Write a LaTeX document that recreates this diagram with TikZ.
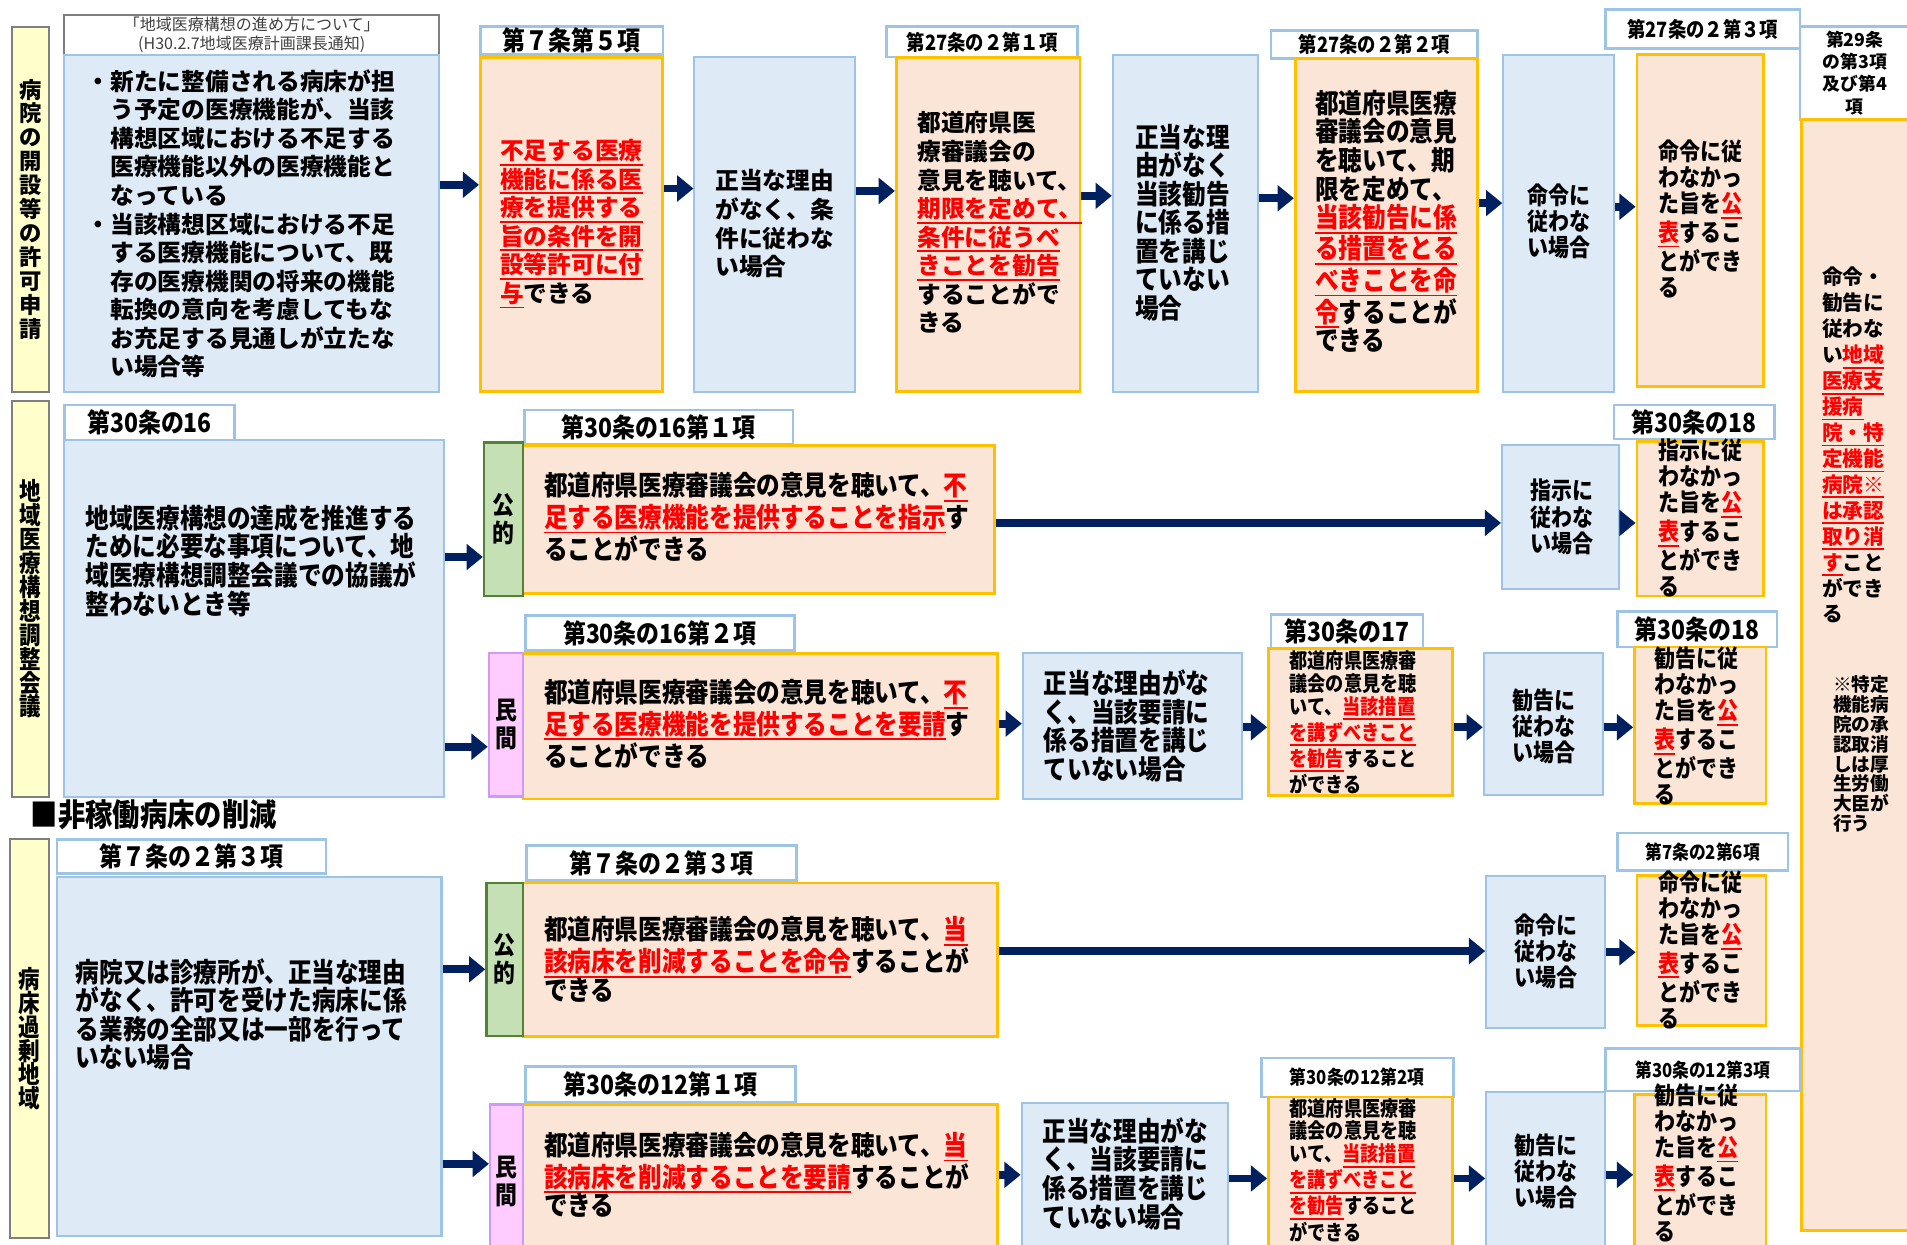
\documentclass[tikz,border=0pt]{standalone}
\usepackage{fontspec}
\setmainfont{Noto Sans CJK JP}
\newfontfamily\cf{Noto Sans CJK JP}[FakeStretch=0.87]
\usetikzlibrary{arrows.meta}
\definecolor{bfill}{HTML}{DEEBF7}
\definecolor{bline}{HTML}{9DC3E6}
\definecolor{ofill}{HTML}{FBE5D6}
\definecolor{oline}{HTML}{FFC000}
\definecolor{yfill}{HTML}{FFFFCC}
\definecolor{gline}{HTML}{7F7F7F}
\definecolor{kfill}{HTML}{C5E0B4}
\definecolor{kline}{HTML}{548235}
\definecolor{mfill}{HTML}{FFCCFF}
\definecolor{mline}{HTML}{CC99FF}
\definecolor{navy}{HTML}{002060}
\definecolor{rd}{HTML}{FF0000}
\definecolor{gtxt}{HTML}{404040}
\newsavebox\rubox
\newcommand\ru[1]{\begingroup\color{rd}\sbox\rubox{#1}\rlap{\rule[-3pt]{\wd\rubox}{0.9pt}}\usebox\rubox\endgroup}
\newcommand\xfN{\bfseries\fontsize{11.7}{14.1}\selectfont}
\newcommand\xfA{\cf\bfseries\fontsize{13.4}{14.1}\selectfont}
\newcommand\xfB{\cf\bfseries\fontsize{11.9}{12.9}\selectfont}
\newcommand\xfC{\cf\bfseries\fontsize{10.3}{11.2}\selectfont}
\newcommand\xfR{\bfseries\fontsize{10.2}{12.8}\selectfont}
\newcommand\xfS{\bfseries\fontsize{9.2}{9.8}\selectfont}
\newcommand\xfH{\cf\bfseries\fontsize{13}{13}\selectfont}
\newcommand\xfh{\cf\bfseries\fontsize{10.4}{11}\selectfont}
\newcommand\xfs{\cf\bfseries\fontsize{9.5}{11}\selectfont}
\newcommand\xfL{\bfseries\fontsize{11}{11.8}\selectfont}
\newcommand\xfLc{\cf\bfseries\fontsize{12.2}{11.8}\selectfont}
\newcommand\xfT{\cf\bfseries\fontsize{12.4}{13.8}\selectfont}
\newcommand\xfG{\fontsize{7.9}{9.2}\selectfont}
\newcommand\xfX{\cf\bfseries\fontsize{15.5}{16}\selectfont}
\newcommand\xfQ{\bfseries\fontsize{8.8}{11}\selectfont}
\newcommand\mkbox[7]{\node[#2, minimum width={(#5-#3)*0.6pt}, minimum height={(#6-#4)*0.6pt}, align=center] (#1) at ({(#3+#5)/2},{(#4+#6)/2}) {#7};}
\newcommand\harr[3]{\draw[arr] (#1.east |- 0,#3) -- (#2.west |- 0,#3);}
\tikzset{
 bbox/.style={draw=bline, fill=bfill, line width=1pt, inner sep=0},
 obox/.style={draw=oline, fill=ofill, line width=1.4pt, inner sep=0},
 hbox/.style={draw=bline, fill=white, line width=1.3pt, inner sep=0},
 lbox/.style={draw=gline, fill=yfill, line width=1pt, inner sep=0},
 kbox/.style={draw=kline, fill=kfill, line width=1.2pt, inner sep=0},
 mbox/.style={draw=mline, fill=mfill, line width=1.2pt, inner sep=0},
 nbox/.style={draw=gline, fill=white, line width=1pt, inner sep=0},
 txt/.style={inner sep=0, align=left, anchor=west},
 arr/.style={draw=navy, line width=3.9pt, -{Triangle[length=8pt,width=12.5pt]}},
}
\begin{document}
\begin{tikzpicture}[x=0.6pt,y=-0.6pt]
\useasboundingbox (0,0) rectangle (1568,1023);
\begin{scope}
\clip (0,0) rectangle (1568,1023);
\fill[white] (0,0) rectangle (1568,1023);
% ---------- Row 1 ----------
\mkbox{lab1}{lbox,font=\xfL}{10}{22}{40}{322}{病\\院\\の\\開\\設\\等\\の\\許\\可\\申\\請}
\mkbox{hd0}{nbox,font=\xfG,text=gtxt}{53}{12}{361}{45}{「地域医療構想の進め方について」\\(H30.2.7地域医療計画課長通知)}
\mkbox{bl1}{bbox}{53}{45}{361}{322}{}
\mkbox{hd1}{hbox,font=\xfH}{395}{22}{545}{45}{第７条第５項}
\mkbox{or1}{obox}{395}{47}{545}{322}{}
\mkbox{bl2}{bbox}{571}{47}{703}{322}{}
\mkbox{hd3}{hbox,font=\xfh}{729}{22}{886}{47}{第27条の２第１項}
\mkbox{or3}{obox}{737}{47}{888}{322}{}
\mkbox{bl4}{bbox}{915}{45}{1034}{322}{}
\mkbox{hd5}{hbox,font=\xfh}{1045}{25}{1215}{48}{第27条の２第２項}
\mkbox{or5}{obox}{1065}{48}{1215}{322}{}
\mkbox{bl6}{bbox}{1236}{45}{1327}{322}{}
\mkbox{hd7}{hbox,font=\xfh}{1320}{8}{1480}{40}{第27条の２第３項}
\mkbox{or7}{obox}{1346}{45}{1450}{318}{}
\mkbox{hdR}{hbox,font=\xfQ}{1480}{22}{1570}{98}{第29条\\の第3項\\及び第4\\項}
\mkbox{orR}{obox}{1481}{98}{1570}{1012}{}
\node[txt,font=\xfN] (t-bl1) at (71,184) {・新たに整備される病床が担\\\phantom{・}う予定の医療機能が、当該\\\phantom{・}構想区域における不足する\\\phantom{・}医療機能以外の医療機能と\\\phantom{・}なっている\\・当該構想区域における不足\\\phantom{・}する医療機能について、既\\\phantom{・}存の医療機関の将来の機能\\\phantom{・}転換の意向を考慮してもな\\\phantom{・}お充足する見通しが立たな\\\phantom{・}い場合等};
\node[txt,font=\xfN] (t-or1) at (411,184) {\ru{不足する医療}\\\ru{機能に係る医}\\\ru{療を提供する}\\\ru{旨の条件を開}\\\ru{設等許可に付}\\\ru{与}できる};
\node[txt,font=\xfN] (t-bl2) at (588,184) {正当な理由\\がなく、条\\件に従わな\\い場合};
\node[txt,font=\xfN] (t-or3) at (754,183) {都道府県医\\療審議会の\\意見を聴いて、\\\ru{期限を定めて、}\\\ru{条件に従うべ}\\\ru{きことを勧告}\\することがで\\きる};
\node[txt,font=\xfA] (t-bl4) at (933,183) {正当な理\\由がなく\\当該勧告\\に係る措\\置を講じ\\ていない\\場合};
\node[txt,font=\xfA] (t-or5) at (1081,182) {都道府県医療\\審議会の意見\\を聴いて、期\\限を定めて、\\\ru{当該勧告に係}\\\ru{る措置をとる}\\\ru{べきことを命}\\\ru{令}することが\\できる};
\node[txt,font=\xfB] (t-bl6) at (1256,182) {命令に\\従わな\\い場合};
\node[txt,font=\xfB] (t-or7) at (1363,180) {命令に従\\わなかっ\\た旨を\ru{公}\\\ru{表}するこ\\とができ\\る};
\node[txt,font=\xfR] (t-orR) at (1498,366) {命令・\\勧告に\\従わな\\い\ru{地域}\\\ru{医療支}\\\ru{援病}\\\ru{院・特}\\\ru{定機能}\\\ru{病院※}\\\ru{は承認}\\\ru{取り消}\\\ru{す}こと\\ができ\\る};
\node[txt,font=\xfS] (t-note) at (1507,620) {※特定\\機能病\\院の承\\認取消\\しは厚\\生労働\\大臣が\\行う};
\harr{bl1}{or1}{152}
\harr{or1}{bl2}{155}
\harr{bl2}{or3}{157}
\harr{or3}{bl4}{161}
\harr{bl4}{or5}{163}
\harr{or5}{bl6}{167}
\harr{bl6}{or7}{170}
% ---------- Row 2 ----------
\mkbox{lab2}{lbox,font=\xfLc}{10}{330}{40}{655}{地\\域\\医\\療\\構\\想\\調\\整\\会\\議}
\mkbox{hd20}{hbox,font=\xfH}{53}{333}{193}{362}{第30条の16}
\mkbox{bl20}{bbox}{53}{362}{365}{655}{}
\mkbox{hd21}{hbox,font=\xfH}{431}{337}{652}{365}{第30条の16第１項}
\mkbox{or21}{obox}{430}{366}{818}{488}{}
\mkbox{tk2}{kbox,font=\xfT}{398}{364}{430}{490}{公\\的}
\mkbox{bl22}{bbox}{1235}{366}{1331}{484}{}
\mkbox{hd23}{hbox,font=\xfH}{1327}{333}{1459}{361}{第30条の18}
\mkbox{or23}{obox}{1346}{363}{1450}{490}{}
\mkbox{hd24}{hbox,font=\xfH}{432}{506}{653}{535}{第30条の16第２項}
\mkbox{or24}{obox}{430}{537}{820}{657}{}
\mkbox{tm2}{mbox,font=\xfT}{402}{537}{430}{655}{民\\間}
\mkbox{bl25}{bbox}{841}{537}{1021}{657}{}
\mkbox{hd26}{hbox,font=\xfH}{1045}{505}{1170}{533}{第30条の17}
\mkbox{or26}{obox}{1043}{533}{1194}{654}{}
\mkbox{bl27}{bbox}{1220}{537}{1318}{654}{}
\mkbox{hd28}{hbox,font=\xfH}{1330}{503}{1461}{532}{第30条の18}
\mkbox{or28}{obox}{1344}{532}{1452}{661}{}
\node[txt,font=\xfA] (t-bl20) at (70,461) {地域医療構想の達成を推進する\\ために必要な事項について、地\\域医療構想調整会議での協議が\\整わないとき等};
\node[txt,font=\xfA] (t-or21) at (447,425) {都道府県医療審議会の意見を聴いて、\ru{不}\\\ru{足する医療機能を提供することを指示}す\\ることができる};
\node[txt,font=\xfB] (t-bl22) at (1258,425) {指示に\\従わな\\い場合};
\node[txt,font=\xfB] (t-or23) at (1363,426) {指示に従\\わなかっ\\た旨を\ru{公}\\\ru{表}するこ\\とができ\\る};
\node[txt,font=\xfA] (t-or24) at (447,595) {都道府県医療審議会の意見を聴いて、\ru{不}\\\ru{足する医療機能を提供することを要請}す\\ることができる};
\node[txt,font=\xfA] (t-bl25) at (858,597) {正当な理由がな\\く、当該要請に\\係る措置を講じ\\ていない場合};
\node[txt,font=\xfC] (t-or26) at (1060,594) {都道府県医療審\\議会の意見を聴\\いて、\ru{当該措置}\\\ru{を講ずべきこと}\\\ru{を勧告}すること\\ができる};
\node[txt,font=\xfB] (t-bl27) at (1243,597) {勧告に\\従わな\\い場合};
\node[txt,font=\xfB] (t-or28) at (1360,597) {勧告に従\\わなかっ\\た旨を\ru{公}\\\ru{表}するこ\\とができ\\る};
\harr{bl20}{tk2}{458}
\harr{bl20}{tm2}{614}
\harr{or21}{bl22}{430}
\harr{bl22}{or23}{430}
\harr{or24}{bl25}{595}
\harr{bl25}{or26}{598}
\harr{or26}{bl27}{598}
\harr{bl27}{or28}{598}
% ---------- title ----------
\node[txt,font=\xfX] (sec) at (25,670) {■非稼働病床の削減};
% ---------- Row 3 ----------
\mkbox{lab3}{lbox,font=\xfLc}{8}{690}{40}{1018}{病\\床\\過\\剰\\地\\域}
\mkbox{hd30}{hbox,font=\xfH}{47}{690}{268}{718}{第７条の２第３項}
\mkbox{bl30}{bbox}{47}{721}{363}{1016}{}
\mkbox{hd31}{hbox,font=\xfH}{433}{695}{655}{724}{第７条の２第３項}
\mkbox{or31}{obox}{430}{726}{820}{852}{}
\mkbox{tk3}{kbox,font=\xfT}{400}{726}{430}{852}{公\\的}
\mkbox{bl32}{bbox}{1222}{720}{1320}{845}{}
\mkbox{hd33}{hbox,font=\xfs}{1330}{685}{1470}{716}{第7条の2第6項}
\mkbox{or33}{obox}{1346}{720}{1452}{843}{}
\mkbox{hd34}{hbox,font=\xfH}{432}{877}{654}{906}{第30条の12第１項}
\mkbox{or34}{obox}{430}{908}{820}{1035}{}
\mkbox{tm3}{mbox,font=\xfT}{403}{908}{430}{1035}{民\\間}
\mkbox{bl35}{bbox}{840}{907}{1010}{1035}{}
\mkbox{hd36}{hbox,font=\xfs}{1037}{870}{1195}{902}{第30条の12第2項}
\mkbox{or36}{obox}{1043}{902}{1194}{1035}{}
\mkbox{bl37}{bbox}{1222}{898}{1320}{1035}{}
\mkbox{hd38}{hbox,font=\xfs}{1320}{862}{1480}{897}{第30条の12第3項}
\mkbox{or38}{obox}{1344}{900}{1452}{1035}{}
\node[txt,font=\xfA] (t-bl30) at (62,834) {病院又は診療所が、正当な理由\\がなく、許可を受けた病床に係\\る業務の全部又は一部を行って\\いない場合};
\node[txt,font=\xfA] (t-or31) at (447,789) {都道府県医療審議会の意見を聴いて、\ru{当}\\\ru{該病床を削減することを命令}することが\\できる};
\node[txt,font=\xfB] (t-bl32) at (1245,782) {命令に\\従わな\\い場合};
\node[txt,font=\xfB] (t-or33) at (1363,781) {命令に従\\わなかっ\\た旨を\ru{公}\\\ru{表}するこ\\とができ\\る};
\node[txt,font=\xfA] (t-or34) at (447,966) {都道府県医療審議会の意見を聴いて、\ru{当}\\\ru{該病床を削減することを要請}することが\\できる};
\node[txt,font=\xfA] (t-bl35) at (857,965) {正当な理由がな\\く、当該要請に\\係る措置を講じ\\ていない場合};
\node[txt,font=\xfC] (t-or36) at (1060,962) {都道府県医療審\\議会の意見を聴\\いて、\ru{当該措置}\\\ru{を講ずべきこと}\\\ru{を勧告}すること\\ができる};
\node[txt,font=\xfB] (t-bl37) at (1245,963) {勧告に\\従わな\\い場合};
\node[txt,font=\xfB] (t-or38) at (1360,956) {勧告に従\\わなかっ\\た旨を\ru{公}\\\ru{表}するこ\\とができ\\る};
\harr{bl30}{tk3}{797}
\harr{bl30}{tm3}{957}
\harr{or31}{bl32}{782}
\harr{bl32}{or33}{783}
\harr{or34}{bl35}{966}
\harr{bl35}{or36}{969}
\harr{or36}{bl37}{969}
\harr{bl37}{or38}{966}
\end{scope}
\end{tikzpicture}
\end{document}
